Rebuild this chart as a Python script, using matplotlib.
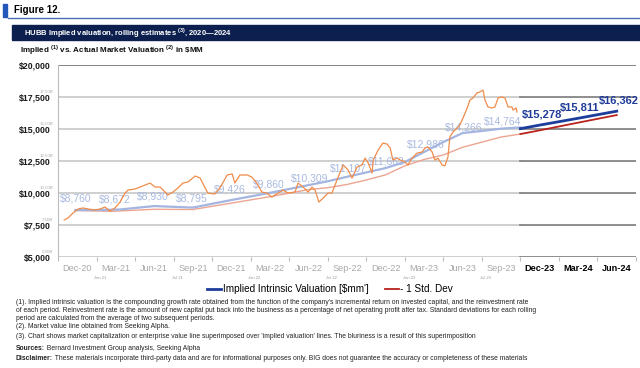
import matplotlib.pyplot as plt
import matplotlib.patches as mpatches
from matplotlib.lines import Line2D

plt.rcParams['font.family'] = ['Liberation Sans', 'DejaVu Sans']
plt.rcParams['mathtext.fontset'] = 'custom'
plt.rcParams['mathtext.rm'] = 'Liberation Sans'
plt.rcParams['mathtext.bf'] = 'Liberation Sans:bold'

# x axis categories (quarters)
hist_quarters = ["Dec-20", "Mar-21", "Jun-21", "Sep-21", "Dec-21", "Mar-22",
                 "Jun-22", "Sep-22", "Dec-22", "Mar-23", "Jun-23", "Sep-23"]
proj_quarters = ["Dec-23", "Mar-24", "Jun-24"]
half_year_marks = ["Jan 21", "Jul 21", "Jan 22", "Jul 22", "Jan 23", "Jul 23"]

# market value line, position in quarters since Dec-20, $MM
mkt_q = [0.16, 0.26, 0.39, 0.52, 0.65, 0.78, 0.96, 1.09, 1.22, 1.35, 1.48, 1.61,
         1.74, 1.82, 2.00, 2.13, 2.26, 2.39, 2.52, 2.65, 2.78, 2.85, 2.98, 3.11,
         3.24, 3.37, 3.56, 3.69, 3.82, 3.89, 4.07, 4.20, 4.39, 4.52, 4.59, 4.72,
         4.91, 5.03, 5.16, 5.29, 5.42, 5.55, 5.71, 5.84, 5.97, 6.15, 6.23, 6.36,
         6.49, 6.59, 6.67, 6.77, 6.88, 7.01, 7.11, 7.24, 7.40, 7.53, 7.63, 7.76,
         7.89, 7.97, 8.05, 8.15, 8.18, 8.31, 8.43, 8.54, 8.62, 8.69, 8.80, 8.88,
         9.01, 9.08, 9.19, 9.32, 9.45, 9.52, 9.60, 9.71, 9.78, 9.86, 9.97, 10.04,
         10.12, 10.17, 10.25, 10.36, 10.43, 10.51, 10.62, 10.69, 10.77, 10.87,
         10.95, 11.03, 11.08, 11.16, 11.26, 11.34, 11.42, 11.52, 11.60, 11.68,
         11.78, 11.81, 11.89, 11.91]
mkt_val = [7880, 8040, 8430, 8740, 8820, 8740, 8660, 8740, 8890, 8580, 8820, 9280,
           9980, 10220, 10300, 10450, 10610, 10760, 10450, 10450, 10060, 9830, 10060, 10370,
           10760, 10840, 11310, 11150, 10370, 9980, 9910, 10370, 11390, 11470, 10760, 11390,
           11390, 11230, 10760, 10060, 9980, 9670, 9980, 10220, 9980, 10060, 10760, 10450,
           10060, 10450, 10220, 9280, 9590, 9980, 9980, 11000, 12170, 11780, 11150, 12010,
           12170, 12710, 12330, 11540, 12560, 13340, 13880, 13800, 13500, 12560, 12710, 12560,
           12400, 12170, 12710, 13100, 13180, 13500, 13570, 13180, 12560, 12700, 12170, 12100,
           12790, 14350, 14740, 15050, 15290, 15830, 16610, 17230, 17390, 17780,
           17860, 18010, 17230, 16690, 16610, 16690, 17390, 17470, 17390, 16690,
           16690, 16450, 16610, 16300]

# implied intrinsic valuation (historical rolling) and -1 std dev
implied_q = [0.45, 1.0, 1.6, 2.5, 3.5, 4.5, 5.5, 6.5, 7.0, 7.5, 8.5, 9.0, 9.5,
             10.0, 10.5, 11.0, 11.5, 12.0]
implied_val = [8660, 8660, 8700, 8970, 8850, 9440, 10000, 10600, 10900, 11250,
               11930, 12400, 13180, 13960, 14660, 14820, 15000, 15100]
std_q = [0.45, 1.4, 2.5, 3.5, 4.5, 5.5, 6.5, 7.0, 7.5, 8.0, 8.5, 9.0, 9.5,
         10.0, 10.5, 11.0, 11.5, 12.0]
std_val = [8620, 8560, 8720, 8700, 9200, 9700, 10250, 10400, 10650, 11000,
           11400, 12100, 12600, 12950, 13550, 13950, 14350, 14580]
hist_labels = [8760, 8672, 8930, 8795, 9426, 9860, 10309, 11107, 11663,
               12986, 14266, 14764]

# projection
proj_q = [12, 12.5, 13.5, 14.5]
proj_val = [15000, 15278, 15811, 16362]
proj_std = [14580, 14870, 15470, 16060]

yticks = [5000, 7500, 10000, 12500, 15000, 17500, 20000]
ytick_small = ["5,00B", "7,50B", "10,00B", "12,50B", "15,00B", "17,50B", ""]

W, H = 640, 368
def fx(px):
    return px / W
def fy(py):
    return 1 - py / H

fig = plt.figure(figsize=(6.4, 3.68), dpi=100)
ax = fig.add_axes([fx(58), fy(257), fx(636) - fx(58), fy(64.5) - fy(257)])

n_hist = len(hist_quarters)
n_all = n_hist + len(proj_quarters)

# grid lines, light over history, dark over projection
for y in yticks[:-1]:
    ax.plot([0, n_hist], [y, y], color='#cccccc', lw=1.3, zorder=1)
    ax.plot([n_hist, n_all], [y, y], color='#7a7a7a', lw=1.2, zorder=1)
ax.plot([0, n_all], [yticks[-1]] * 2, color='#707070', lw=1.2, zorder=1)

# value labels (behind market line)
for i, v in enumerate(hist_labels):
    ax.text(i + 0.05, v + 800, f"${v:,}", color='#a9b9e0', fontsize=7.5,
            ha='left', va='center', zorder=2)

ax.plot(std_q, std_val, color='#eda592', lw=1.0, zorder=3)
ax.plot(implied_q, implied_val, color='#a3b5e0', lw=1.6, zorder=3)
ax.plot(mkt_q, mkt_val, color='#f08c4a', lw=0.9, zorder=4)

blue_line, = ax.plot(proj_q, proj_val, color='#1c3d9c', lw=2.0, zorder=5,
                     label="Implied Intrinsic Valuation [$mm']")
red_line, = ax.plot(proj_q, proj_std, color='#b8231c', lw=1.3, zorder=5,
                    label="- 1 Std. Dev")
for i, v in enumerate(proj_val[1:]):
    ax.text(n_hist + i + 0.03, v + 800, f"${v:,}", color='#1f3c99',
            fontsize=8, fontweight='bold', ha='left', va='center', zorder=6)

ax.set_xlim(0, n_all)
ax.set_ylim(5000, 20000)
ax.set_yticks(yticks)
ax.set_yticklabels([f"${v:,}" for v in yticks], fontsize=6.3,
                   fontweight='bold', color='#1a1a1a')
ax.tick_params(axis='y', length=0, pad=5)

ax.set_xticks([i + 0.5 for i in range(n_all)])
ax.set_xticklabels(hist_quarters + proj_quarters, fontsize=6.6)
ax.set_xticks(range(n_all + 1), minor=True)
ax.tick_params(axis='x', which='major', length=0, pad=5)
ax.tick_params(axis='x', which='minor', length=3, width=0.8, color='#bbbbbb')
for i, lbl in enumerate(ax.get_xticklabels()):
    if i < n_hist:
        lbl.set_color('#a8a8a8')
    else:
        lbl.set_color('black')
        lbl.set_fontweight('bold')
for i, t in enumerate(ax.xaxis.get_minor_ticks()):
    if i >= n_hist:
        t.tick1line.set_color('#333333')

for s in ['top', 'right', 'bottom']:
    ax.spines[s].set_visible(False)
ax.spines['left'].set_color('#bbbbbb')

# tiny overlay labels from the superimposed chart
for y, s in zip(yticks, ytick_small):
    ax.text(-0.12, y + 250, s, fontsize=3.2, color='#aaaaaa', ha='right', va='bottom')
for i, s in enumerate(half_year_marks):
    ax.text(1 + 2 * i + 0.1, 3550, s, fontsize=3.0, color='#999999',
            ha='center', va='top', clip_on=False)

# legend
ax.legend(handles=[blue_line, red_line], loc='center',
          bbox_to_anchor=(fx(330), fy(289)), bbox_transform=fig.transFigure,
          ncol=2, frameon=False, fontsize=7.2, handlelength=1.4,
          handletextpad=0.15, columnspacing=1.6)

# header
fig.patches.append(mpatches.Rectangle((fx(3), fy(17)), fx(4), fy(4) - fy(17),
                                      transform=fig.transFigure, color='#2356b8'))
fig.add_artist(Line2D([fx(8), fx(640)], [fy(18), fy(18)], color='#4c6fb0', lw=1.0))
fig.text(fx(14), fy(10), "Figure 12.", fontsize=7, fontweight='bold', va='center')
fig.patches.append(mpatches.Rectangle((fx(12), fy(40)), fx(640) - fx(12), fy(25) - fy(40),
                                      transform=fig.transFigure, color='#0c1f4e'))
fig.text(fx(24), fy(32.5), r"HUBB Implied valuation, rolling estimates $^{\mathbf{(3)}}$, 2020—2024",
         fontsize=5.5, fontweight='bold', color='white', va='center')
fig.text(fx(20), fy(50), r"Implied $^{\mathbf{(1)}}$ vs. Actual Market Valuation $^{\mathbf{(2)}}$ in \$MM",
         fontsize=5.8, fontweight='bold', color='#111111', va='center')

# footnotes
notes = [
    "(1). Implied intrinsic valuation is the compounding growth rate obtained from the function of the company's incremental return on invested capital, and the reinvestment rate",
    "of each period. Reinvestment rate is the amount of new capital put back into the business as a percentage of net operating profit after tax. Standard deviations for each rolling",
    "period are calculated from the average of two subsequent periods.",
    "(2). Market value line obtained from Seeking Alpha.",
    "(3). Chart shows market capitalization or enterprise value line superimposed over 'implied valuation' lines. The bluriness is a result of this superimposition",
]
note_y = [302, 310, 318, 326, 336]
for s, y in zip(notes, note_y):
    fig.text(fx(16), fy(y), s, fontsize=4.9, color='#222222', va='center')

for head, body, y in [("Sources:", " Bernard Investment Group analysis, Seeking Alpha", 348),
                      ("Disclaimer:", " These materials incorporate third-party data and are for informational purposes only. BIG does not guarantee the accuracy or completeness of these materials", 359)]:
    t1 = fig.text(fx(16), fy(y), head, fontsize=4.9, fontweight='bold', color='#222222', va='center')
    fig.add_artist(plt.Annotation(body, xy=(1, 0.5), xycoords=t1, va='center', ha='left',
                                  fontsize=4.9, color='#222222'))

fig.savefig("out.png", dpi=100)
